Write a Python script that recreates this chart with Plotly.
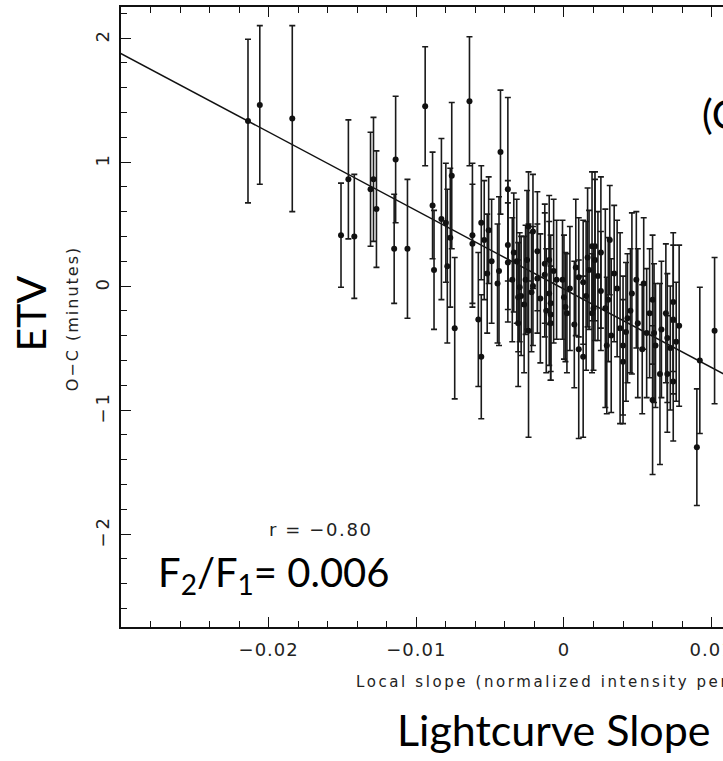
import plotly.graph_objects as go

# Local slope (normalized intensity per minute)
slope = [-0.0214, -0.0206, -0.0184, -0.0151, -0.0146, -0.0142, -0.0131, -0.0129, -0.0127, -0.0114,
         -0.0115, -0.0106, -0.0094, -0.0089, -0.0088, -0.0083, -0.0080, -0.0079, -0.0077, -0.0076,
         -0.0074, -0.0064, -0.0062, -0.0062, -0.0058, -0.0056, -0.0056, -0.0054, -0.0052, -0.0051,
         -0.0049, -0.0045, -0.0044, -0.0043, -0.0038, -0.0038, -0.0038, -0.0034, -0.0032, -0.0031,
         -0.0031, -0.0030, -0.0029, -0.0026, -0.0025, -0.0024, -0.0024, -0.0022, -0.0021, -0.0021,
         -0.0018, -0.0018, -0.0013, -0.0013, -0.0010, -0.0010, -0.0009, -0.0009, -0.0009, -0.0005,
         -0.0001, 0.0000, 0.0001, 0.0002, 0.0007, 0.0010, 0.0010, 0.0013, 0.0013, 0.0016,
         0.0017, 0.0019, 0.0021, 0.0021, 0.0020, 0.0019, 0.0025, 0.0025, 0.0028, 0.0029,
         0.0030, 0.0032, 0.0031, 0.0036, 0.0038, 0.0040, 0.0040, 0.0042, 0.0043, 0.0046,
         0.0054, 0.0053, 0.0056, 0.0060, 0.0060, 0.0061, 0.0062, 0.0065, 0.0069, 0.0070,
         0.0070, 0.0074, 0.0074, 0.0074, 0.0076, 0.0078, 0.0090, 0.0092, 0.0102,
         -0.0035, -0.0027, -0.0016, -0.0007, 0.0004, 0.0008, 0.0015, 0.0023, 0.0034, 0.0045,
         0.0050, 0.0058, 0.0066, 0.0072, 0.0049, -0.0012]
# O-C (minutes)
oc = [1.33, 1.46, 1.35, 0.41, 0.86, 0.40, 0.78, 0.86, 0.62, 1.02,
      0.30, 0.30, 1.45, 0.65, 0.13, 0.54, 0.51, 0.16, 0.39, 0.89,
      -0.34, 1.49, 0.41, 0.34, -0.27, 0.51, -0.57, 0.37, 0.10, 0.45,
      0.20, 0.02, 0.12, 1.08, 0.78, 0.33, 0.19, 0.27, 0.20, -0.09,
      -0.30, -0.01, -0.08, 0.05, 0.21, 0.48, -0.36, -0.05, 0.44, 0.00,
      0.28, 0.06, 0.18, 0.09, 0.21, -0.06, -0.14, -0.23, -0.30, 0.05,
      0.05, -0.09, -0.17, -0.22, -0.31, 0.07, -0.51, 0.03, -0.57, 0.23,
      0.13, 0.32, 0.21, 0.32, -0.18, -0.22, 0.27, -0.04, -0.18, -0.48,
      -0.11, -0.40, 0.37, -0.02, -0.34, -0.48, -0.61, -0.37, -0.26, -0.06,
      0.02, -0.51, -0.38, -0.92, -0.11, -0.38, -0.48, -0.71, -0.22, -0.42,
      -0.71, -0.13, -0.27, -0.77, -0.45, -0.32, -1.30, -0.60, -0.36,
      0.05, -0.15, -0.10, 0.12, -0.02, 0.15, -0.08, 0.08, 0.10, -0.20,
      -0.30, -0.22, -0.35, -0.50, 0.05, -0.20]
# 1-sigma uncertainty (minutes)
oc_err = [0.66, 0.64, 0.75, 0.42, 0.48, 0.50, 0.46, 0.50, 0.47, 0.51,
          0.44, 0.56, 0.48, 0.43, 0.48, 0.65, 0.48, 0.62, 0.56, 0.59,
          0.57, 0.52, 0.58, 0.48, 0.54, 0.46, 0.50, 0.48, 0.48, 0.43,
          0.50, 0.48, 0.60, 0.50, 0.74, 0.52, 0.48, 0.48, 0.50, 0.44,
          0.51, 0.44, 0.48, 0.44, 0.56, 0.44, 0.86, 0.48, 0.46, 0.48,
          0.48, 0.44, 0.48, 0.50, 0.52, 0.58, 0.55, 0.53, 0.46, 0.48,
          0.48, 0.50, 0.44, 0.48, 0.51, 0.48, 0.72, 0.50, 0.65, 0.56,
          0.48, 0.60, 0.65, 0.60, 0.50, 0.48, 0.61, 0.48, 0.80, 0.55,
          0.50, 0.62, 0.44, 0.55, 0.77, 0.56, 0.50, 0.56, 0.52, 0.65,
          0.53, 0.52, 0.52, 0.60, 0.52, 0.56, 0.50, 0.73, 0.56, 0.52,
          0.47, 0.56, 0.60, 0.48, 0.48, 0.65, 0.47, 0.59, 0.59,
          0.50, 0.55, 0.52, 0.58, 0.50, 0.55, 0.60, 0.52, 0.55, 0.50,
          0.60, 0.52, 0.55, 0.50, 0.55, 0.50]

# linear fit
fit_slope = -63.3
fit_intercept = -0.025
fit_x = [-0.0305, 0.0115]
fit_y = [fit_intercept + fit_slope * v for v in fit_x]

x_range = [-0.0300, 0.01077]
y_range = [-2.75, 2.25]
x_ticks = [-0.02, -0.01, 0, 0.01]
x_tick_labels = ["\u22120.02", "\u22120.01", "0", "0.01"]
y_ticks = [-2, -1, 0, 1, 2]
y_tick_labels = ["\u22122", "\u22121", "0", "1", "2"]


def spaced(s, px):
    return '<span style="letter-spacing:%spx">%s</span>' % (px, s)


INK = "#111111"
GREY = "#222222"
TICKFONT = dict(family="DejaVu Sans", size=18, color=GREY)

fig = go.Figure()
fig.add_trace(go.Scatter(
    x=fit_x, y=fit_y, mode="lines",
    line=dict(color=INK, width=1.4), hoverinfo="skip", showlegend=False))
fig.add_trace(go.Scatter(
    x=slope, y=oc, mode="markers",
    marker=dict(color=INK, size=6),
    error_y=dict(type="data", array=oc_err, visible=True, color="#1a1a1a",
                 thickness=1.6, width=3),
    showlegend=False))

fig.update_layout(
    width=723, height=761,
    margin=dict(l=121, r=0, t=7, b=134, autoexpand=False),
    paper_bgcolor="white", plot_bgcolor="white",
    xaxis=dict(range=x_range, showgrid=False, zeroline=False, automargin=False,
               showline=True, linecolor=INK, linewidth=1.6, mirror="allticks",
               ticks="inside", ticklen=10, tickwidth=1.4, tickcolor=INK,
               tickvals=x_ticks, ticktext=[spaced(t, 1) for t in x_tick_labels],
               tickfont=TICKFONT, ticklabelstandoff=6, ticklabeloverflow="allow",
               minor=dict(dtick=0.002, ticks="inside", ticklen=6, tickwidth=1.3,
                          tickcolor=INK, showgrid=False)),
    yaxis=dict(range=y_range, showgrid=False, zeroline=False, automargin=False,
               showline=True, linecolor=INK, linewidth=1.6, mirror=False,
               ticks="inside", ticklen=10, tickwidth=1.4, tickcolor=INK,
               tickvals=y_ticks, ticktext=[spaced(t, 3) for t in y_tick_labels],
               tickfont=TICKFONT, tickangle=-90, ticklabelstandoff=3,
               minor=dict(dtick=0.2, ticks="inside", ticklen=6, tickwidth=1.3,
                          tickcolor=INK, showgrid=False)),
    annotations=[
        dict(text=spaced("r = \u22120.80", 1.6), x=-0.01646, y=-1.96, xref="x", yref="y",
             showarrow=False, xanchor="center", yanchor="middle",
             font=dict(family="DejaVu Sans", size=18, color=GREY)),
        dict(text="F<sub>2</sub>/F<sub>1</sub>= 0.006", x=-0.0276, y=-2.33,
             xref="x", yref="y", showarrow=False, xanchor="left", yanchor="middle",
             font=dict(family="Lato", size=40, color="black")),
        dict(text="(C)", x=0.0092, y=1.39, xref="x", yref="y",
             showarrow=False, xanchor="left", yanchor="middle",
             font=dict(family="Lato", size=40, color="black")),
        dict(text="ETV", x=-0.151, y=0.506, xref="paper", yref="paper",
             showarrow=False, textangle=-90, xanchor="center", yanchor="middle",
             font=dict(family="Lato", size=41, color="black")),
        dict(text=spaced("O\u2212C (minutes)", 2), x=-0.0814, y=0.498,
             xref="paper", yref="paper",
             showarrow=False, textangle=-90, xanchor="center", yanchor="middle",
             font=dict(family="DejaVu Sans", size=16, color=GREY)),
        dict(text=spaced("Local slope (normalized intensity per minute)", 2.6),
             x=0.387, y=-0.089, xref="paper", yref="paper", showarrow=False,
             xanchor="left", yanchor="middle",
             font=dict(family="DejaVu Sans", size=15, color=GREY)),
        dict(text="Lightcurve Slope", x=0.455, y=-0.166, xref="paper", yref="paper",
             showarrow=False, xanchor="left", yanchor="middle",
             font=dict(family="Lato", size=43, color="black")),
    ],
)

fig.write_html("out.html")
